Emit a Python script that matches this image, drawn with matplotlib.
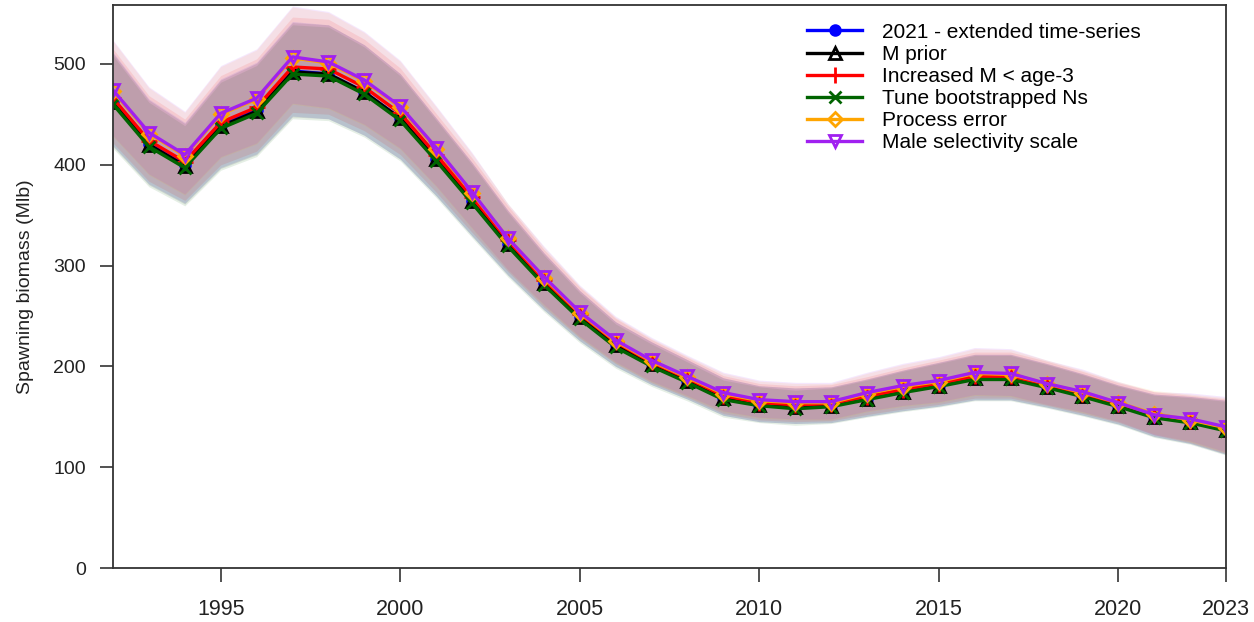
import numpy as np
import matplotlib
matplotlib.use("Agg")
import matplotlib.pyplot as plt
from matplotlib import font_manager
from matplotlib.lines import Line2D

years = list(range(1992, 2024))

extended_2021 = [463, 421, 400, 439, 454, 493, 490, 472, 446, 406, 364, 321, 283, 249, 221, 202,
                 186, 169, 162, 160, 161, 168, 175, 181, 188, 188, 180, 171, 161, 150, 145, 137]
m_prior = [462, 420, 399, 438, 453, 492, 490, 472, 446, 406, 364, 321, 283, 249, 221, 202,
           186, 169, 162, 160, 161, 168, 175, 181, 188, 188, 180, 171, 161, 150, 145, 137]
increased_m = [466, 424, 403, 442, 457, 497, 495, 477, 451, 410, 368, 325, 286, 252, 224, 204,
               188, 171, 164, 162, 163, 170, 177, 183, 190, 190, 182, 173, 163, 152, 146, 138]
tune_boot = [460, 418, 397, 436, 451, 490, 488, 470, 444, 404, 362, 319, 281, 247, 219, 200,
             184, 167, 161, 158, 160, 167, 174, 180, 187, 187, 179, 170, 160, 149, 144, 136]
process_err = [473, 431, 409, 450, 465, 506, 501, 483, 457, 416, 372, 327, 288, 253, 225, 205,
               189, 173, 166, 164, 164, 173, 180, 185, 193, 192, 183, 174, 164, 153, 147, 139]
male_sel = [474, 432, 410, 451, 466, 507, 502, 484, 458, 417, 373, 327, 289, 254, 226, 206,
            190, 174, 167, 165, 165, 174, 181, 186, 194, 193, 183, 175, 164, 152, 148, 140]

# log-scale half width of the uncertainty band, per year
log_sd = [0.10, 0.10, 0.10, 0.10, 0.10, 0.095, 0.095, 0.095, 0.095, 0.095, 0.10, 0.10, 0.10,
          0.10, 0.10, 0.105, 0.105, 0.11, 0.11, 0.11, 0.11, 0.11, 0.115, 0.12, 0.12, 0.12,
          0.12, 0.12, 0.12, 0.14, 0.16, 0.195]

labels = ["2021 - extended time-series", "M prior", "Increased M < age-3",
          "Tune bootstrapped Ns", "Process error", "Male selectivity scale"]
series = [extended_2021, m_prior, increased_m, tune_boot, process_err, male_sel]
colors = ["#0000FF", "#000000", "#FF0000", "#006400", "#FFA500", "#A020F0"]
markers = ["o", "^", "+", "x", "D", "v"]
mfill = [True, False, False, False, False, False]
msizes = [7, 8, 11, 9, 7, 9]

xticks = [1995, 2000, 2005, 2010, 2015, 2020, 2023]
yticks = [0, 100, 200, 300, 400, 500]

avail = {f.name for f in font_manager.fontManager.ttflist}
base_font = "Liberation Sans" if "Liberation Sans" in avail else "DejaVu Sans"
plt.rcParams["font.family"] = [base_font, "DejaVu Sans"]

fig = plt.figure(figsize=(12.54, 6.22), dpi=100)
ax = fig.add_axes([0.0901, 0.0868, 0.8876, 0.9052])

x = np.array(years)
sd = np.array(log_sd)
for vals, c in zip(series, colors):
    v = np.array(vals, dtype=float)
    ax.fill_between(x, v * np.exp(-sd), v * np.exp(sd), color=c, alpha=0.1, lw=0)

for vals, c, m, mf, ms, lab in zip(series, colors, markers, mfill, msizes, labels):
    ax.plot(x, vals, color=c, lw=2.4, marker=m, ms=ms, mew=2.0,
            mfc=c if mf else "none", mec=c, label=lab)

ax.set_xlim(1992, 2023)
ax.set_ylim(0, 558.5)
ax.set_xticks(xticks)
ax.set_yticks(yticks)
ax.set_xticklabels([str(t) for t in xticks], fontsize=15.5, color="#222222")
ax.set_yticklabels([str(t) for t in yticks], fontsize=14, color="#222222")
ax.tick_params(axis="x", length=10, width=1.2, pad=12, color="#333333")
ax.tick_params(axis="y", length=9.5, width=1.2, pad=10, color="#333333")
for s in ax.spines.values():
    s.set_linewidth(1.3)
    s.set_color("#333333")
ax.set_ylabel("Spawning biomass (Mlb)", fontsize=14, color="#222222", labelpad=14)

handles = [Line2D([0], [0], color=c, lw=2.4, marker=m, ms=ms, mew=2.0,
                  mfc=c if mf else "none", mec=c)
           for c, m, mf, ms in zip(colors, markers, mfill, msizes)]
ax.legend(handles, labels, loc="upper left", bbox_to_anchor=(0.608, 1.0), frameon=False,
          fontsize=15, labelspacing=0.15, handlelength=2.6, handletextpad=1.0,
          borderaxespad=0.45)

fig.savefig("out.png", dpi=100)
